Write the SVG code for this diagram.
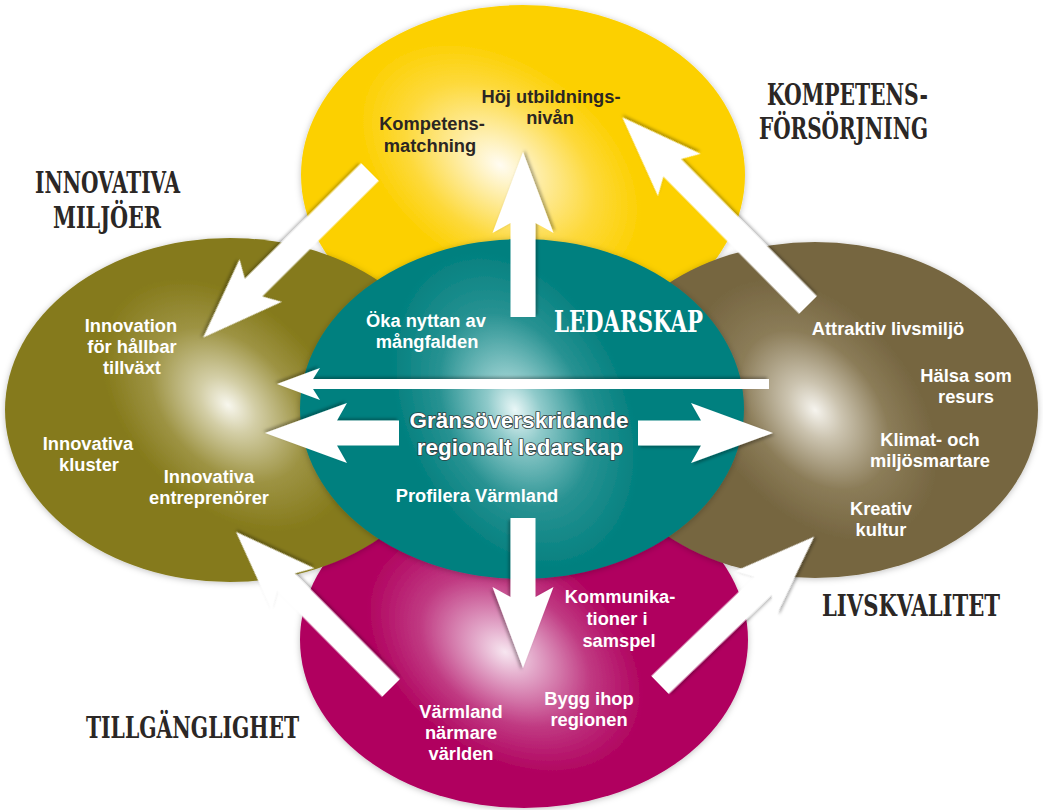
<svg xmlns="http://www.w3.org/2000/svg" width="1043" height="810" viewBox="0 0 1043 810">
<defs>
<style>
.lbl{fill:#fff;font-family:"Liberation Sans",Arial,sans-serif;font-weight:bold;font-size:18.3px;text-anchor:middle}
.dlbl{fill:#2b2623;font-family:"Liberation Sans",Arial,sans-serif;font-weight:bold;font-size:18.3px;text-anchor:middle}
.hd{fill:#2b2725;font-family:"DejaVu Serif Condensed","DejaVu Serif","Liberation Serif",serif;font-weight:bold;font-size:29px}
.big{fill:#fff;font-family:"Liberation Sans",Arial,sans-serif;font-weight:bold;font-size:22.5px;text-anchor:middle;stroke:#2f4142;stroke-width:1.7px;paint-order:stroke;stroke-linejoin:round}
.arr{fill:#fff;filter:url(#ash)}
</style>
<filter id="sh" x="-10%" y="-10%" width="120%" height="120%"><feDropShadow dx="0" dy="1" stdDeviation="3" flood-color="#000" flood-opacity="0.25"/></filter>
<filter id="ash" x="-20%" y="-20%" width="140%" height="140%"><feDropShadow dx="2" dy="2" stdDeviation="1.6" flood-color="#000" flood-opacity="0.3"/></filter>
<radialGradient id="gY" gradientUnits="userSpaceOnUse" cx="0" cy="0" r="1" gradientTransform="translate(500 165) rotate(35) scale(175 115)">
<stop offset="0" stop-color="#fffcf2"/><stop offset="0.25" stop-color="#feeda6"/><stop offset="0.6" stop-color="#fdd93a"/><stop offset="0.9" stop-color="#fcd000"/></radialGradient>
<radialGradient id="gO" gradientUnits="userSpaceOnUse" cx="0" cy="0" r="1" gradientTransform="translate(228 405) rotate(45) scale(165 110)">
<stop offset="0" stop-color="#f8f7ee"/><stop offset="0.2" stop-color="#d3cea6"/><stop offset="0.55" stop-color="#9d9343"/><stop offset="0.9" stop-color="#857a1b"/></radialGradient>
<radialGradient id="gB" gradientUnits="userSpaceOnUse" cx="0" cy="0" r="1" gradientTransform="translate(815 410) rotate(50) scale(165 110)">
<stop offset="0" stop-color="#f6f4ee"/><stop offset="0.2" stop-color="#cbc3af"/><stop offset="0.55" stop-color="#8b7c58"/><stop offset="0.9" stop-color="#766641"/></radialGradient>
<radialGradient id="gT" gradientUnits="userSpaceOnUse" cx="0" cy="0" r="1" gradientTransform="translate(515 410) rotate(65) scale(185 125)">
<stop offset="0" stop-color="#eaf7f7"/><stop offset="0.2" stop-color="#8fcaca"/><stop offset="0.55" stop-color="#289292"/><stop offset="0.9" stop-color="#02807f"/></radialGradient>
<radialGradient id="gM" gradientUnits="userSpaceOnUse" cx="0" cy="0" r="1" gradientTransform="translate(505 652) rotate(35) scale(170 115)">
<stop offset="0" stop-color="#f7e6f0"/><stop offset="0.2" stop-color="#e2a6c8"/><stop offset="0.55" stop-color="#c03a82"/><stop offset="0.9" stop-color="#b0025f"/></radialGradient>
</defs>
<rect width="1043" height="810" fill="#fff"/>

<g id="node-kompetens">
<ellipse cx="523" cy="175" rx="222" ry="170" fill="url(#gY)" filter="url(#sh)"/>
<text class="dlbl" x="551" y="103">Höj utbildnings-</text>
<text class="dlbl" x="550" y="124">nivån</text>
<text class="dlbl" x="432" y="130">Kompetens-</text>
<text class="dlbl" x="430" y="152">matchning</text>
<text class="hd" x="928" y="105" text-anchor="end" textLength="161" lengthAdjust="spacingAndGlyphs">KOMPETENS-</text>
<text class="hd" x="928" y="139" text-anchor="end" textLength="169" lengthAdjust="spacingAndGlyphs">FÖRSÖRJNING</text>
</g>

<g id="node-tillganglighet">
<ellipse cx="524" cy="640" rx="224" ry="168" fill="url(#gM)" filter="url(#sh)"/>
<text class="lbl" x="620" y="603">Kommunika-</text>
<text class="lbl" x="617" y="625">tioner i</text>
<text class="lbl" x="619" y="647">samspel</text>
<text class="lbl" x="589" y="705">Bygg ihop</text>
<text class="lbl" x="589" y="726">regionen</text>
<text class="lbl" x="461" y="718">Värmland</text>
<text class="lbl" x="461" y="739">närmare</text>
<text class="lbl" x="461" y="760">världen</text>
<text class="hd" x="86" y="738" textLength="213" lengthAdjust="spacingAndGlyphs">TILLGÄNGLIGHET</text>
</g>

<g id="node-innovativa">
<ellipse cx="230" cy="410" rx="225" ry="172" fill="url(#gO)" filter="url(#sh)"/>
<text class="lbl" x="131" y="332">Innovation</text>
<text class="lbl" x="132" y="353">för hållbar</text>
<text class="lbl" x="132" y="374">tillväxt</text>
<text class="lbl" x="88" y="450">Innovativa</text>
<text class="lbl" x="89" y="471">kluster</text>
<text class="lbl" x="209" y="483">Innovativa</text>
<text class="lbl" x="209" y="504">entreprenörer</text>
<text class="hd" x="35" y="193" textLength="145" lengthAdjust="spacingAndGlyphs">INNOVATIVA</text>
<text class="hd" x="53" y="228" textLength="108" lengthAdjust="spacingAndGlyphs">MILJÖER</text>
</g>

<g id="node-livskvalitet">
<ellipse cx="815" cy="410" rx="223" ry="168" fill="url(#gB)" filter="url(#sh)"/>
<text class="lbl" x="888" y="335">Attraktiv livsmiljö</text>
<text class="lbl" x="966" y="382">Hälsa som</text>
<text class="lbl" x="966" y="403">resurs</text>
<text class="lbl" x="930" y="446">Klimat- och</text>
<text class="lbl" x="930" y="467">miljösmartare</text>
<text class="lbl" x="881" y="515">Kreativ</text>
<text class="lbl" x="881" y="536">kultur</text>
<text class="hd" x="1000" y="616" text-anchor="end" font-size="27" textLength="178" lengthAdjust="spacingAndGlyphs">LIVSKVALITET</text>
</g>

<g id="node-ledarskap">
<ellipse cx="522" cy="409" rx="222" ry="170" fill="url(#gT)" filter="url(#sh)"/>
<text class="hd" x="554" y="332" style="fill:#fff" textLength="149" lengthAdjust="spacingAndGlyphs">LEDARSKAP</text>
<text class="lbl" x="426" y="327">Öka nyttan av</text>
<text class="lbl" x="427" y="348">mångfalden</text>
<text class="lbl" x="477" y="502">Profilera Värmland</text>
<text class="big" x="519" y="428">Gränsöverskridande</text>
<text class="big" x="520" y="455">regionalt ledarskap</text>
</g>

<g id="connectors">
<path class="arr" transform="translate(523 317) rotate(-90)" d="M0,-12.5H94L84,-30.5L165,0L84,30.5L94,12.5H0Z"/>
<path class="arr" transform="translate(523 518) rotate(90)" d="M0,-12.5H79L69,-30.5L150,0L69,30.5L79,12.5H0Z"/>
<path class="arr" transform="translate(399 433) rotate(180)" d="M0,-12.5H62L52,-30L134,0L52,30L62,12.5H0Z"/>
<path class="arr" transform="translate(638 433)" d="M0,-12.5H63L53,-30L135,0L53,30L63,12.5H0Z"/>
<path class="arr" transform="translate(769 384) rotate(180)" d="M0,-5H456L449,-16L492,0L449,16L456,5H0Z"/>
<path class="arr" transform="translate(370 172) rotate(135.2)" d="M0,-12.5H164L154,-30L235,0L154,30L164,12.5H0Z"/>
<path class="arr" transform="translate(808 305) rotate(-134.7)" d="M0,-12.5H193L183,-30L264,0L183,30L193,12.5H0Z"/>
<path class="arr" transform="translate(391 688) rotate(-134.8)" d="M0,-12.5H149L139,-30L220,0L139,30L149,12.5H0Z"/>
<path class="arr" transform="translate(660 685) rotate(-43.9)" d="M0,-12.5H143L133,-30L214,0L133,30L143,12.5H0Z"/>
</g>
</svg>
